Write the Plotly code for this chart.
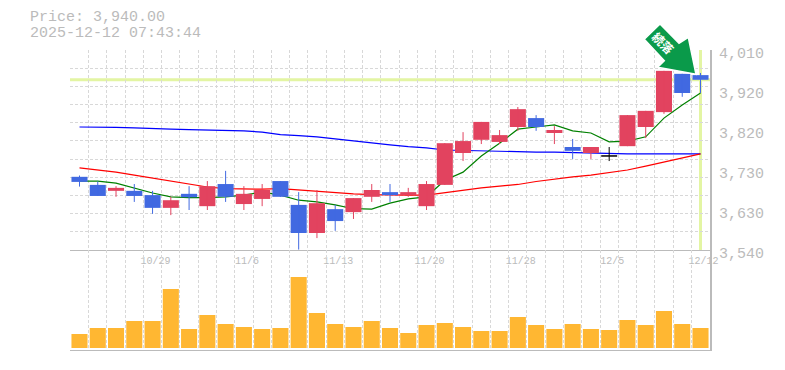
import plotly.graph_objects as go

categories = list(range(35))
tick_pos = [4, 9, 14, 19, 24, 29, 34]
tick_dates = ["10/29", "11/6", "11/13", "11/20", "11/28", "12/5", "12/12"]
price_ticks = [3540, 3634, 3728, 3822, 3916, 4010]
price_labels = ["3,540", "3,630", "3,730", "3,820", "3,920", "4,010"]
last_price = 3940

opens = [3712, 3693, 3679, 3679, 3669, 3639, 3672, 3643, 3695, 3648, 3660, 3702,
         3646, 3580, 3636, 3629, 3665, 3676, 3669, 3643, 3693, 3768, 3799, 3794,
         3829, 3850, 3815, 3782, 3768, 3761, 3784, 3829, 3864, 3954, 3951]
closes = [3700, 3667, 3686, 3667, 3639, 3657, 3664, 3690, 3665, 3672, 3681, 3665,
          3580, 3650, 3608, 3662, 3681, 3669, 3676, 3695, 3791, 3796, 3841, 3810,
          3871, 3829, 3822, 3773, 3782, 3761, 3857, 3867, 3961, 3909, 3940]
highs = [3715, 3701, 3690, 3695, 3679, 3665, 3690, 3702, 3726, 3690, 3695, 3702,
         3676, 3681, 3646, 3662, 3695, 3695, 3686, 3702, 3791, 3817, 3841, 3822,
         3876, 3857, 3831, 3801, 3782, 3782, 3857, 3867, 3961, 3954, 3956]
lows = [3689, 3667, 3665, 3653, 3625, 3622, 3634, 3634, 3653, 3634, 3643, 3665,
        3541, 3568, 3585, 3613, 3653, 3653, 3665, 3634, 3693, 3749, 3789, 3789,
        3820, 3820, 3789, 3754, 3754, 3749, 3784, 3803, 3860, 3900, 3909]

ma_short = [3702, 3702, 3697, 3686, 3674, 3665, 3663, 3663, 3665, 3669, 3676, 3669,
            3657, 3653, 3646, 3637, 3636, 3650, 3660, 3665, 3704, 3723, 3761, 3791,
            3824, 3829, 3834, 3820, 3815, 3794, 3796, 3806, 3850, 3881, 3909]
ma_mid = [3733, 3728, 3723, 3716, 3709, 3702, 3695, 3688, 3684, 3683, 3683, 3684,
          3681, 3677, 3674, 3672, 3670, 3669, 3669, 3669, 3675, 3680, 3686, 3690,
          3694, 3701, 3707, 3712, 3716, 3722, 3728, 3737, 3747, 3756, 3766]
ma_long = [3829, 3829, 3828, 3827, 3825, 3824, 3823, 3822, 3821, 3820, 3817, 3811,
           3809, 3806, 3801, 3796, 3791, 3787, 3783, 3780, 3775, 3774, 3773, 3771,
           3771, 3770, 3770, 3769, 3768, 3766, 3766, 3766, 3766, 3766, 3766]
volumes = [14, 20, 20, 27, 27, 59, 19, 33, 24, 21, 19, 20, 71, 35, 24, 21, 27, 20,
           15, 23, 25, 21, 17, 17, 31, 23, 19, 24, 19, 18, 28, 23, 37, 24, 20]

RED, BLUE = "#e2435f", "#4169e1"
GREY, GRID = "#bbbbbb", "#d8d8d8"
FONT = "Liberation Mono"


def colour(i):
    if closes[i] > opens[i]:
        return RED
    if closes[i] < opens[i]:
        return BLUE
    return "#000000"


fig = go.Figure()
for name, vals, col in [("MA long", ma_long, "#0000ff"), ("MA mid", ma_mid, "#ff0000"),
                        ("MA short", ma_short, "#008000")]:
    fig.add_trace(go.Scatter(x=categories, y=vals, mode="lines", name=name,
                             line=dict(color=col, width=1.2), xaxis="x", yaxis="y"))

# candle bodies
fig.add_trace(go.Bar(x=categories, base=[min(o, c) for o, c in zip(opens, closes)],
                     y=[abs(c - o) for o, c in zip(opens, closes)], width=0.88,
                     marker=dict(color=[colour(i) for i in categories], line_width=0),
                     xaxis="x", yaxis="y3", name="Price"))
# candle wicks
for col in (RED, BLUE, "#000000"):
    xs, ys = [], []
    for i in categories:
        if colour(i) == col:
            xs += [i, i, None]
            ys += [lows[i], highs[i], None]
    fig.add_trace(go.Scatter(x=xs, y=ys, mode="lines", line=dict(color=col, width=1),
                             xaxis="x", yaxis="y3", name="Wick"))
# flat candle: open equals close
flat = [i for i in categories if opens[i] == closes[i]]
fig.add_trace(go.Scatter(x=flat, y=[closes[i] for i in flat], mode="markers",
                         marker=dict(symbol="line-ew", size=11.4, line=dict(color="#000000", width=1.5)),
                         xaxis="x", yaxis="y3", name="Flat"))
fig.add_trace(go.Bar(x=categories, y=volumes, width=0.88, marker=dict(color="#ffb732", line_width=0),
                     xaxis="x2", yaxis="y2", name="Volume"))

XR = [-0.52, 34.52]
YR = [price_ticks[0], price_ticks[-1]]
grid = dict(showgrid=True, gridcolor=GRID, griddash="3px,2px", gridwidth=1)
fig.update_layout(
    width=785, height=370, showlegend=False, plot_bgcolor="white", paper_bgcolor="white",
    margin=dict(l=70, r=75, t=50, b=20, pad=0),
    xaxis=dict(domain=[0, 1], range=XR, anchor="y", showgrid=False, zeroline=False, automargin=False,
               tickmode="array", tickvals=tick_pos, ticktext=tick_dates, ticks="",
               tickfont=dict(family=FONT, size=10, color=GREY),
               ticklabelshift=3, ticklabelstandoff=1,
               showline=True, linecolor=GREY, linewidth=1,
               minor=dict(tickmode="linear", tick0=-0.5, dtick=1, ticks="", **grid)),
    xaxis2=dict(domain=[0, 1], range=XR, anchor="y2", showticklabels=False, ticks="", zeroline=False,
                automargin=False, tick0=-0.5, dtick=1, showline=True, linecolor=GREY, linewidth=1, **grid),
    yaxis=dict(domain=[1/3, 1], range=YR, anchor="x", showticklabels=False, ticks="", zeroline=False,
               automargin=False, tick0=price_ticks[0], dtick=(YR[1]-YR[0])/11, **grid),
    yaxis3=dict(overlaying="y", side="right", range=YR, anchor="x", showgrid=False, zeroline=False,
                automargin=False, tickmode="array", tickvals=price_ticks, ticktext=price_labels, ticks="",
                ticklabelshift=3, ticklabelstandoff=4,
                tickfont=dict(family=FONT, size=15, color=GREY),
                showline=True, linecolor=GREY, linewidth=2),
    yaxis2=dict(domain=[0, 1/3], range=[-2, 98], anchor="x2", side="right", showgrid=False, automargin=False,
                showticklabels=False, ticks="", zeroline=False,
                showline=True, linecolor=GREY, linewidth=2),
)

GUIDE = "#e3f5a3"
fig.add_shape(type="line", xref="paper", x0=0, x1=1, yref="y", y0=last_price, y1=last_price,
              line=dict(color=GUIDE, width=3), layer="below")
fig.add_shape(type="line", xref="x", x0=categories[-1], x1=categories[-1], yref="y", y0=YR[0], y1=YR[1],
              line=dict(color=GUIDE, width=3), layer="below")


def px(x, y):
    return (x - 70) / 640, (350 - y) / 300


arrow = [(660, 24), (644.3, 39.3), (664.3, 60.7), (657.7, 67.3), (696, 74.3), (688.3, 37.3), (679, 43.3)]
path = "M " + " L ".join("%.4f,%.4f" % px(*p) for p in arrow) + " Z"
fig.add_shape(type="path", xref="paper", yref="paper", path=path, fillcolor="#0a9a4a",
              line=dict(color="white", width=1.5), layer="above")
x0, y0 = px(652, 34)
x1, y1 = px(672, 54)
fig.add_shape(type="line", xref="paper", yref="paper", x0=x0, y0=y0, x1=x1, y1=y1,
              line=dict(color="rgba(0,0,0,0)", width=0), layer="above",
              label=dict(text="<b>続落</b>", textangle=45, textposition="middle",
                         xanchor="center", yanchor="middle", padding=0,
                         font=dict(family="Noto Sans CJK JP", size=12, color="white")))
for text, py in [("Price: 3,940.00", 17.5), ("2025-12-12 07:43:44", 33.5)]:
    ax, ay = px(28, py)
    fig.add_annotation(xref="paper", yref="paper", x=ax, y=ay, text=text, showarrow=False, xanchor="left",
                       yanchor="middle", font=dict(family=FONT, size=15, color=GREY))

fig.write_html("out.html", config=dict(displayModeBar=False),
               post_script="document.body.style.margin='0';")
